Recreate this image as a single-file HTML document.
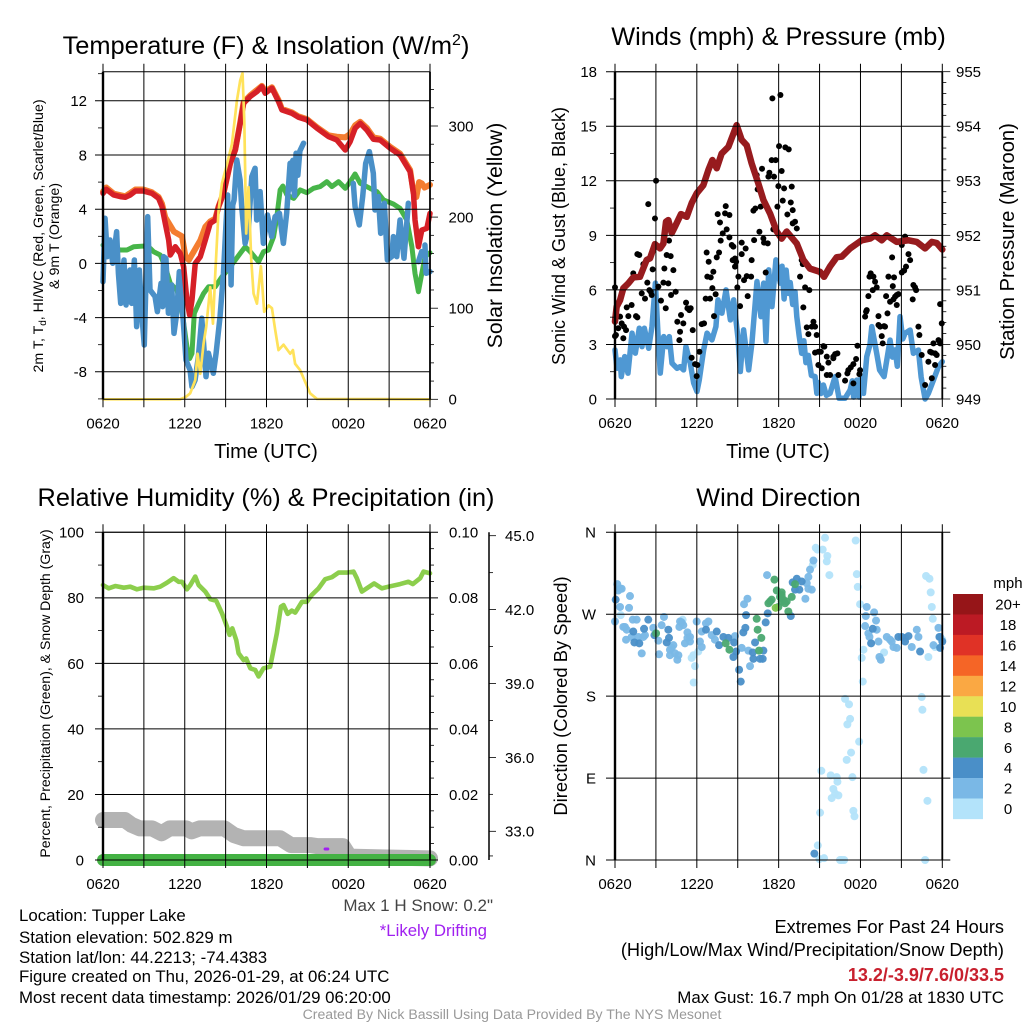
<!DOCTYPE html>
<html lang="en">
<head>
<meta charset="utf-8">
<title>Tupper Lake Meteogram</title>
<style>
html,body{margin:0;padding:0;background:#fff;}
svg{display:block;font-family:"Liberation Sans",sans-serif;}
text{fill:#000;}
</style>
</head>
<body>
<svg id="chart" xmlns="http://www.w3.org/2000/svg" width="1024" height="1024" viewBox="0 0 1024 1024">
  <rect width="1024" height="1024" fill="#fff"/>
  <g id="panel-a"></g>
  <g id="panel-b"></g>
  <g id="panel-c"></g>
  <g id="panel-d"></g>
  <g id="legend"></g>

  <text x="266" y="54" font-size="25.4" text-anchor="middle">Temperature (F) &amp; Insolation (W/m<tspan dy="-9" font-size="16">2</tspan><tspan dy="9">)</tspan></text>
  <text x="778.5" y="45" font-size="25.3" text-anchor="middle">Winds (mph) &amp; Pressure (mb)</text>
  <text x="266" y="506" font-size="25.3" text-anchor="middle">Relative Humidity (%) &amp; Precipitation (in)</text>
  <text x="778.5" y="506" font-size="25.3" text-anchor="middle">Wind Direction</text>

  <text x="266" y="458" font-size="20" text-anchor="middle">Time (UTC)</text>
  <text x="778" y="458" font-size="20" text-anchor="middle">Time (UTC)</text>

  <text transform="translate(43,236) rotate(-90)" font-size="14.2" text-anchor="middle">2m T, T<tspan dy="3" font-size="10">d</tspan><tspan dy="-3">, HI/WC (Red, Green, Scarlet/Blue)</tspan></text>
  <text transform="translate(59,236) rotate(-90)" font-size="14.2" text-anchor="middle">&amp; 9m T (Orange)</text>
  <text transform="translate(502,235.5) rotate(-90)" font-size="21.1" text-anchor="middle">Solar Insolation (Yellow)</text>
  <text transform="translate(565,236) rotate(-90)" font-size="18" text-anchor="middle">Sonic Wind &amp; Gust (Blue, Black)</text>
  <text transform="translate(1014,241.5) rotate(-90)" font-size="20.2" text-anchor="middle">Station Pressure (Maroon)</text>
  <text transform="translate(50,693.5) rotate(-90)" font-size="14.1" text-anchor="middle">Percent, Precipitation (Green), &amp; Snow Depth (Gray)</text>
  <text transform="translate(567,696) rotate(-90)" font-size="18.4" text-anchor="middle">Direction (Colored By Speed)</text>

  <text x="493" y="911" font-size="17" text-anchor="end" style="fill:#444">Max 1 H Snow: 0.2"</text>
  <text x="487" y="936" font-size="16.8" text-anchor="end" style="fill:#a020f0">*Likely Drifting</text>

  <text x="19" y="921" font-size="16.85">Location: Tupper Lake</text>
  <text x="19" y="943" font-size="16.85">Station elevation: 502.829 m</text>
  <text x="19" y="963" font-size="16.85">Station lat/lon: 44.2213; -74.4383</text>
  <text x="19" y="982" font-size="16.85">Figure created on Thu, 2026-01-29, at 06:24 UTC</text>
  <text x="19" y="1003" font-size="16.85">Most recent data timestamp: 2026/01/29 06:20:00</text>

  <text x="1004" y="933" font-size="18.2" text-anchor="end">Extremes For Past 24 Hours</text>
  <text x="1004" y="956" font-size="18.2" text-anchor="end">(High/Low/Max Wind/Precipitation/Snow Depth)</text>
  <text x="1004" y="981" font-size="18" font-weight="bold" text-anchor="end" style="fill:#c8202e">13.2/-3.9/7.6/0/33.5</text>
  <text x="1004" y="1003" font-size="16.9" text-anchor="end">Max Gust: 16.7 mph On 01/28 at 1830 UTC</text>
  <text x="512" y="1019" font-size="14.1" text-anchor="middle" style="fill:#999">Created By Nick Bassill Using Data Provided By The NYS Mesonet</text>
</svg>

<script>
/* ---------- shared time axis ---------- */
const timeTicks = [0,3,6,9,12,15,18,21,24];
const timeLabels = ['0620','','1220','','1820','','0020','','0620'];

/* ---------- temperature panel data ---------- */
const tempTicks = [12,8,4,0,-4,-8];
const tempMinorTicks = [14,10,6,2,-2,-6,-10];
const solarTicks = [0,100,200,300];
const solarMinorTicks = [20,40,60,80,120,140,160,180,220,240,260,280,320,340];

const redHours = [0,.24,.78,1.27,1.64,2,2.37,2.98,3.59,4.08,4.33,4.57,4.82,4.94,5.31,5.67,5.92,6.16,6.36,6.53,6.77,7.14,7.51,7.87,8.24,8.48,8.85,9.34,9.71,10.07,10.32,10.81,11.3,11.66,11.91,12.4,12.88,13.13,13.86,14.35,14.96,15.7,16.55,17.16,17.78,18.14,18.51,18.88,19.36,19.85,20.34,21.08,21.8,22.54,22.79,22.9,23.15,23.4,23.77,24];
const redValues = [5.17,5.47,5.05,4.93,4.88,5.05,5.34,5.34,5.17,4.8,4.19,2.96,1.72,.62,1.23,.74,-.25,-2.71,-3.82,-2.71,0,.49,1.72,2.96,3.2,4.19,5.17,7.39,8.37,10.34,11.82,12.32,12.68,13.05,12.56,12.93,11.95,11.33,11.08,10.79,10.59,9.98,9.36,9.11,8.37,8.99,9.98,10.34,9.85,9.16,9.11,8.5,8,6.77,5.17,3.2,1.23,2.46,2.59,3.69];

const orangeHours = [0,.24,.78,1.64,2.37,2.98,3.59,4.08,4.33,4.57,5.2,5.8,6.05,6.3,6.85,7.14,7.51,7.87,8.24,8.48,8.85,9.34,9.71,10.07,10.32,10.81,11.3,11.66,11.91,12.4,12.88,13.13,13.86,14.35,14.96,15.7,16.55,17.16,17.78,18.14,18.51,18.88,19.36,19.85,20.34,21.08,21.8,22.54,22.79,23,23.2,23.4,23.6,24];
const orangeValues = [5.3,5.6,5.15,4.95,5.45,5.45,5.25,4.9,4.4,3.4,2.35,2,.5,.25,1.2,1.7,2.7,3.1,3.3,4.2,5.2,7.4,8.4,10.4,11.9,12.4,12.8,13.1,12.7,13,12.05,11.4,11.15,10.85,10.65,10.05,9.45,9.35,9.3,9.55,10.2,10.45,10,9.3,9.2,8.6,8.1,6.9,5.2,4.9,6,5.9,5.6,5.8];

const greenHours = [0,.54,1.27,1.76,2.25,2.98,3.47,3.72,4.2,4.57,4.94,5.43,5.79,6.16,6.36,6.53,6.7,7.02,7.38,7.75,8.24,8.73,9.34,9.71,10.07,10.44,10.81,11.42,11.78,12.15,12.52,12.76,13,13.2,13.5,14,14.47,14.96,15.45,15.94,16.43,16.8,17.29,17.78,18.14,18.5,18.88,19.6,20.1,20.59,21.32,21.8,22.3,22.67,22.9,23.15,23.4,23.64,24];
const greenValues = [1.35,1.23,.99,.99,1.23,1.28,1.11,.86,.62,-.25,-1.48,-1.97,-3.45,-6.16,-7.02,-6.65,-3.69,-2.96,-2.22,-1.72,-1.72,-.99,-.25,.25,.74,1.23,.86,.12,.86,.99,1.97,3.45,5.42,5.71,5.05,4.8,5.42,5.22,5.54,5.67,6.03,5.67,6.03,5.54,6.03,6.6,5.91,5.54,5.3,4.68,4.38,4.06,3.2,1.23,-.74,-2.09,-.74,.49,.79];

const blueHours = [0,.15,.32,.51,.71,1,1.13,1.3,1.54,1.69,1.98,2.1,2.3,2.47,2.67,2.84,3.03,3.28,3.45,3.82,3.99,4.26,4.38,4.45,4.62,4.8,5.04,5.21,5.41,5.6,5.85,6.09,6.39,6.53,6.76,7,7.25,7.56,7.74,8.1,8.3,8.59,8.84,9.03,9.15,9.22,9.3,9.4,9.52,9.62,9.82,10.06,10.18,10.43,10.67,10.92,11.16,11.28,11.53,11.77,12.07,12.38,12.63,12.95,13.1,13.24,13.48,13.73,13.85,13.93,14.05,14.17,14.3,14.45,14.72,15,18.37,18.5,18.81,19.06,19.28,19.55,19.84,19.96,20.21,20.38,20.65,20.87,21.19,21.31,21.56,21.8,22.09,22.41,22.6,23.15,23.39,23.5,23.63,23.71,24];
const blueValues = [-1.35,3.33,.5,1.73,.01,2.34,-.73,-2.95,.25,-3.07,-.49,-2.95,.25,-4.67,-.49,-3.68,-6.02,3.45,-1.96,-2.45,-3.56,-1.47,-3.19,.5,.37,-3.68,-1.59,-5.16,-3.68,-.61,-3.68,-7.13,-7.86,-9.11,-8.6,-6.88,-4.05,-8.36,-6.63,-8.11,-6.63,-3.93,-.73,2.96,5.05,-.5,4.2,-1.59,4.3,4.68,7.63,6.16,4.19,1.48,2.47,6.4,7.02,3.2,5.3,1.48,3.57,1.98,3.45,3.7,2.5,1.48,3.7,7.39,5.5,7.6,5,8.13,6.5,8.3,8.87,null,5.91,4.19,2.84,4.93,7.39,8.25,6.65,3.94,4.93,2.22,4.44,.25,.5,1.98,.5,3.2,.38,4.44,null,.13,.87,null,1.36,-.73,-.61];

const solarHours = [0,5.67,6.04,6.4,6.77,6.94,7.14,7.38,7.58,7.87,8.07,8.24,8.48,8.73,9.1,9.46,9.83,10.07,10.24,10.37,10.51,10.68,10.88,11.05,11.3,11.59,11.83,12.15,12.4,12.64,12.88,13.25,13.74,13.94,14.1,14.47,14.84,15.2,15.7,24];
const solarValues = [0,0,2.2,6.6,21,50,28,61,80,123,83,138,207,237,258,280,328,350,358,306,182,233,153,116,105,146,96,103,100,76,54,60,50,54,39,32,19,6.6,.4,0];

/* ---------- wind panel data ---------- */
const windTicks = [18,15,12,9,6,3,0];
const windMinorTicks = [16.5,13.5,10.5,7.5,4.5,1.5];
const pressureTicks = [949,950,951,952,953,954,955];
const pressureMinorTicks = [949.2,949.4,949.6,949.8,950.2,950.4,950.6,950.8,951.2,951.4,951.6,951.8,952.2,952.4,952.6,952.8,953.2,953.4,953.6,953.8,954.2,954.4,954.6,954.8];

const pressureHours = [0,.12,.37,.61,.98,1.34,1.83,2.32,2.57,2.93,3.3,3.55,3.74,3.91,4.16,4.4,4.84,5.26,5.62,5.99,6.48,6.85,7.14,7.46,7.82,8.31,8.92,9.29,9.66,10.02,10.51,10.88,11.37,11.86,12.22,12.59,13.33,13.81,14.3,15.04,15.33,15.77,16.26,16.63,17.24,18.09,18.7,19.07,19.56,19.93,20.66,21.52,22.13,22.74,23.23,23.59,24];
const pressureValues = [950.42,950.69,950.81,951.03,951.12,951.23,951.24,951.55,951.58,951.84,951.76,951.85,952.25,952.28,952.04,952.16,952.39,952.34,952.59,952.77,952.92,953.2,953.38,953.23,953.5,953.62,954.02,953.75,953.65,953.32,952.95,952.65,952.4,952.07,951.94,952.07,951.85,951.55,951.39,951.33,951.24,951.43,951.6,951.61,951.76,951.91,951.94,952,951.91,952,951.88,951.91,951.88,951.76,951.88,951.86,951.74];

const sustainedHours = [0,.15,.39,.46,.71,.95,1.25,1.49,1.78,1.98,2.15,2.47,2.71,2.96,3.15,3.32,3.57,3.81,3.98,4.18,4.55,4.79,5.03,5.2,5.52,5.77,6.01,6.18,6.5,6.75,7.11,7.4,7.55,7.84,8.14,8.46,8.7,9.02,9.19,9.43,9.8,10.04,10.41,10.7,10.9,11.07,11.27,11.51,11.8,12.12,12.25,12.4,12.55,12.71,12.85,13.03,13.2,13.33,13.5,13.69,13.85,14,14.18,14.4,14.67,14.8,14.91,15.1,15.28,15.5,15.77,16.14,16.43,16.87,17.24,17.4,17.5,17.73,17.9,18.05,18.22,18.46,18.7,18.83,19.19,19.4,19.73,20.17,20.35,20.54,20.7,20.9,21.1,21.27,21.64,21.88,22.25,22.45,22.74,22.98,23.35,23.72,24];
const sustainedValues = [2.7,1.69,2.15,1.23,2.33,1.42,3.62,2.52,3.89,2.88,3.89,2.79,3.98,6.37,3.62,1.42,3.43,2.88,3.43,1.97,1.69,1.78,1.6,2.88,1.97,.87,.41,1.05,2.7,3.62,3.25,3.98,5.45,4.72,6,4.35,5.45,3.34,1.51,3.8,1.6,3.07,6.46,4.53,6.37,3.16,7.1,5.08,7.65,6.37,7.3,5.5,7.09,5.81,6.4,5.2,5.9,4.53,3.5,2.51,3.2,2,2.4,1.3,1.23,.31,.9,.3,.77,.2,.31,1.23,.04,.04,.49,1,.1,1.04,.1,1.2,.31,2.33,3,3.98,2.51,1.6,1.23,3.24,2.3,2.7,1.8,4.53,3.3,3.61,3.79,2.51,2.69,1.2,0,.31,1.04,1.78,2.05];

const gustHours = [0,0,.07,.24,.37,.49,.61,.66,.81,.86,.98,1.22,1.54,1.64,1.64,1.78,1.34,1.96,2.08,2.2,2.32,2.37,2.52,2.62,2.69,2.76,2.44,2.93,3.01,3.18,3.37,3.55,3.62,3.72,3.79,3.91,3.96,4.08,4.11,4.28,4.45,4.57,4.72,4.77,4.84,5.01,5.21,5.31,5.45,5.55,5.7,5.62,5.87,5.99,6.04,6.19,6.36,6.53,6.65,6.72,6.87,6.77,7.02,6.97,7.14,7.38,7.26,7.21,7.46,7.63,7.53,7.7,7.9,8.12,8.07,8.39,8.19,7.75,8.39,8.56,8.68,8.63,8.8,8.88,8.8,8.97,9.05,9.17,9.29,9.29,9.58,9.46,9.73,9.66,10.02,9.98,10.2,10.15,10.29,10.46,10.39,10.59,10.68,10.78,10.88,10.93,11.2,11.05,11.32,11.49,11.78,11.25,11.66,11.98,12.03,12.22,11.91,12.3,12.4,11.61,12.49,12.74,12.96,12.89,12.64,13.03,13.2,13.03,13.33,13.52,13.69,13.77,13.57,13.94,14.25,13.81,14.06,14.18,14.43,14.55,14.67,14.79,14.67,14.91,15.28,15.35,15.09,14.91,15.16,15.53,15.65,15.53,16.01,16.14,16.31,15.77,16.01,16.38,16.87,17.04,17.11,17.29,17.48,17.68,17.78,17.92,17.97,17.48,18.34,18.46,18.41,18.58,18.66,18.75,18.95,19.07,18.9,19.19,19.32,19.44,19.73,19.56,19.8,19.32,19.98,19.63,20.05,20.46,20.37,19.88,20.17,20.54,20.66,20.78,20.42,20.66,20.32,21.03,21.2,21.34,21.52,21.64,21.27,21.03,21.88,22.08,22,21.83,22.25,22.32,22.49,22.98,23.35,23.47,23.23,23.11,23.72,23.84,23.84,23.96,23.47,23.23,22.74,23.59,11.54,12.13];
const gustValues = [6.14,3.46,3.52,3.89,4.53,4.16,3.34,3.98,3.79,5.04,4.56,5.17,4.56,4.49,7.97,7.92,6.91,5.81,7.42,5.52,7.64,6.4,5.99,5.9,5.72,7.13,10.72,9.93,12,6.18,5.41,6.4,7.18,4.99,7.92,6.36,8.71,7.86,5.72,7.09,5.9,4.25,3.24,3.7,4.62,4.16,5.3,4.99,4.89,4.99,3.79,2.27,1.92,1.26,1.87,2.6,4.12,4.16,5.52,8.06,7.55,6.73,6.69,5.52,6.1,5.76,4.56,7,7.79,8.06,10.17,9.71,9.11,10.61,10.21,10.12,9.33,8.71,8.89,8.47,8.38,7.64,7.73,7.55,7.28,6.14,6.73,5.11,8.6,7.97,8.28,6.54,5.66,6.76,7.64,6.73,8.74,10.36,10.48,11.53,12.32,9.2,10.58,12.66,8.83,8.6,8.56,6.96,12.44,13.14,13.14,12.23,12.23,11.71,13.91,12.54,10.58,10.91,11.58,9.33,13.84,13.73,11.68,10.81,10.15,10.39,9.75,9.66,9.38,8.19,7.64,7.42,6.73,6.14,5.99,5.04,3.94,3.57,3.98,4.25,3.98,3.52,2.55,2.6,2.91,2.88,2.6,1.87,1.69,1.32,2,2.33,2.33,2.47,2.51,1.32,2.24,1.32,1.01,1.41,1.59,1.74,1.92,2.2,2.93,1.37,1.59,.86,4.53,4.89,4.8,5.66,6.73,6.91,6.73,6.45,5.99,6.14,4.07,3.98,4.01,3.46,3.98,4.56,4.71,3.06,6.73,6.69,6.21,5.66,5.35,5.63,5.72,5.77,5.48,5.17,7.79,6.96,7.06,7.28,7.97,7.64,8.93,8.47,6.27,5.99,6.14,5.48,3.98,3.52,2.42,2.05,3.06,2.51,2.55,2.6,3.24,3.06,5.22,4.16,1.87,1.14,.77,2.42,16.53,16.72];

/* ---------- humidity panel data ---------- */
const percentTicks = [100,80,60,40,20,0];
const percentMinorTicks = [90,70,50,30,10];
const precipTicks = [0,.02,.04,.06,.08,.1];
const precipTickLabels = ['0.00','0.02','0.04','0.06','0.08','0.10'];
const precipMinorTicks = [.005,.01,.015,.025,.03,.035,.045,.05,.055,.065,.07,.075,.085,.09,.095];
const snowTicks = [33,36,39,42,45];
const snowTickLabels = ['33.0','36.0','39.0','42.0','45.0'];
const snowMinorTicks = [32,34.5,37.5,40.5,43.5];

const humidityHours = [0,.42,.9,1.52,2,2.49,2.98,3.72,4.2,4.69,5.18,5.55,5.79,6.16,6.41,6.77,7.02,7.51,7.87,8.31,8.73,9.1,9.29,9.49,9.78,9.95,10.32,10.51,10.81,11.17,11.42,11.78,12.27,12.47,12.76,13.06,13.25,13.55,13.86,14.11,14.6,14.96,15.33,15.82,16.31,16.8,17.29,17.9,18.39,18.63,19,19.36,19.9,20.46,20.95,21.8,22.42,22.74,23.28,23.52,24];
const humidityValues = [83.9,82.9,83.6,83.1,83.4,82.6,83.1,82.9,83.4,84.6,86,84.9,84.9,82.6,83.9,86.5,83.9,81.9,79.6,79.1,75.3,71.2,68.7,70.7,67.1,63.1,61,61.5,58.5,58,56,58.5,59,63.1,69.2,77.3,77.8,75.1,76.1,75.5,78.8,78.8,80.9,82.9,85.7,86.3,87.7,87.7,88,86,81.9,82.9,84.4,82.9,83.4,84.2,84.9,84.2,86,88,87.5];

const snowHours = [0,1.6,2.1,2.7,3.6,4.3,4.9,6.1,6.5,7.1,8.9,9.6,10.3,13,13.8,15.2,15.7,17.6,18.1,24];
const snowValues = [33.46,33.46,33.26,33.12,33.12,32.92,33.12,33.12,33,33.12,33.12,32.85,32.72,32.72,32.44,32.44,32.4,32.4,31.97,31.9];
const precipHours = [0,24];
const precipValues = [0,0];
const driftHours = [16.3,16.5];
const driftSnow = [32.28,32.28];

/* ---------- direction panel data ---------- */
const directionTicks = [360,270,180,90,0];
const directionLabels = ['N','W','S','E','N'];

const dirCalmHours = [.42,4.96,5.75,5.62,6.11,5.87,5.77,15.4,14.72,15.23,14.84,15.57,15.53,15.72,17.65,17.73,17.8,17.97,14.5,18.22,18.09,18.17,19.73,16.87,17.16,17.24,17.04,17.9,17.31,16.99,15.13,15.82,16.26,16.31,16.01,16.14,16.38,15.89,15.04,17.48,17.56,17.41,14.87,14.99,15.33,16.5,16.8,16.63,22.81,23.06,23.15,23.23,23.3,22.49,22.54,22.62,22.91,22.74,23.47,22.98,24];
const dirCalmDegrees = [269,264,225,222,229,213,195,354,343,341,341,334,328,313,351,314,300,281,324,231,222,196,228,177,171,155,149,130,118,110,98,93,91,86,78,73,71,68,52,54,48,91,16,1,2,0,0,0,312,309,294,278,265,179,165,99,65,0,234,223,242];
const dirLightHours = [.17,.37,.24,.49,1.1,.37,1.03,0,.73,.61,.86,.81,1.3,1.59,1.22,1.71,2.08,1.96,2.2,3.59,3.42,2.81,3.18,3.23,4.03,4.16,4.28,4.03,4.4,4.57,4.65,4.72,4.89,5.01,5.31,5.13,5.31,5.5,5.99,6.36,6.23,6.36,6.67,6.85,7.09,7.33,8.8,9.29,9.78,9.9,9.46,9.71,11.15,14.55,14.3,14.18,14.06,14.18,14.43,13.96,18.34,18.66,18.58,19.32,19.93,20.17,20.42,20.29,20.66,21.76,22.25,22.13,21.27,23.35,23.72,23.84,19.49,19.39,18.46,19,18.39,19.14,19.19,5.5,4.77];
const dirLightDegrees = [303,298,296,298,290,278,277,262,256,256,253,242,264,264,245,245,245,227,247,267,258,255,241,226,231,233,236,225,227,220,225,256,261,258,250,238,244,240,262,251,240,234,260,262,247,242,246,233,230,213,281,287,313,329,319,311,304,298,297,287,257,245,249,240,245,242,234,240,233,234,245,253,244,236,255,245,220,223,278,272,268,263,253,245,262];
const dirMidHours = [.05,1.34,1.42,1.78,2.13,2.44,2.89,3.91,3.96,3.79,6.67,7.46,7.63,7.95,8.31,8.73,8.68,8.88,9.1,9.22,9.41,9.56,9.61,10.27,10.1,10.88,10.15,10.64,10.83,11.05,11.2,12.89,13.03,13.33,13.69,13.2,13.52,14.62,18.9,18.78,20.78,21.03,21.27,21.52,23.84,22.37,23.79,24];
const dirMidDegrees = [286,251,239,238,254,264,247,253,244,239,253,251,236,245,244,239,223,229,209,196,250,255,269,239,228,230,221,221,221,261,271,268,305,309,306,297,297,7,254,238,245,245,240,246,233,229,245,240];
const dirStrongHours = [3.01,8.12,8.39,10.56,10.73,10.46,10.39,11.69,11.86,12.22,12.35,12.1,12.22,12.59,12.96,11.49,11.25,11.98,12.71,13.2,12.47,12.22,11.37];
const dirStrongDegrees = [249,238,231,230,244,253,265,308,296,294,286,289,284,284,289,286,282,278,273,303,282,291,284];
const dirPeakHours = [11.78];
const dirPeakDegrees = [277];

/* ---------- legend data ---------- */
const legendLabels = ['20+','18','16','14','12','10','8','6','4','2','0'];
const legendColors = ['#961518','#bc1a24','#e03226','#f56526','#faa843','#e8e055','#7cc44e','#4aa870','#4a8fc8','#7ab8e6','#b3e3fa'];

/* ---------- helpers ---------- */
const NS = 'http://www.w3.org/2000/svg';
function make(tag, attrs) {
  const el = document.createElementNS(NS, tag);
  for (const k in attrs) el.setAttribute(k, attrs[k]);
  return el;
}
function linear(d0, d1, r0, r1) {
  return v => r0 + (v - d0) * (r1 - r0) / (d1 - d0);
}
function pathData(xs, ys, fx, fy) {
  let d = '', pen = false;
  for (let i = 0; i < xs.length; i++) {
    if (ys[i] === null) { pen = false; continue; }
    d += (pen ? 'L' : 'M') + fx(xs[i]).toFixed(2) + ' ' + fy(ys[i]).toFixed(2);
    pen = true;
  }
  return d;
}
function seriesPath(xs, ys, fx, fy, color, width) {
  return make('path', {d: pathData(xs, ys, fx, fy), fill: 'none', stroke: color, 'stroke-width': width, 'stroke-linejoin': 'round', 'stroke-linecap': 'round'});
}
function addGrid(parent, P, fy, ticks, leftExt, rightExt) {
  timeTicks.forEach(t => {
    const x = P.x(t);
    const ln = make('line', {x1: x, x2: x, y1: P.top - 8, y2: P.bottom + 8, stroke: '#000', 'stroke-width': 1});
    
    
    parent.appendChild(ln);
  });
  ticks.forEach(v => {
    const y = fy(v);
    const ln = make('line', {x1: P.left - leftExt, x2: P.right + rightExt, y1: y, y2: y, stroke: '#000', 'stroke-width': 1});
    
    
    parent.appendChild(ln);
  });
  const frame = make('path', {d: `M${P.left} ${P.top}H${P.right}M${P.left} ${P.bottom}H${P.right}`, fill: 'none', stroke: '#000', 'stroke-width': 1});
  
  
  parent.appendChild(frame);
  const spine = make('line', {x1: P.left, x2: P.left, y1: P.top, y2: P.bottom, stroke: '#000', 'stroke-width': 2.4});
  
  
  parent.appendChild(spine);
  const rspine = make('line', {x1: P.right, x2: P.right, y1: P.top, y2: P.bottom, stroke: '#000', 'stroke-width': 1.8});
  
  
  parent.appendChild(rspine);
  timeTicks.forEach((t, i) => {
    if (!timeLabels[i]) return;
    const tx = make('text', {x: P.x(t), y: P.bottom + 29, 'font-size': 15, 'text-anchor': 'middle'});
    tx.textContent = timeLabels[i];
    
    
    parent.appendChild(tx);
  });
}
function addMinorTicks(parent, values, fy, x0, len) {
  values.forEach(v => {
    const y = fy(v);
    const ln = make('line', {x1: x0, x2: x0 + len, y1: y, y2: y, stroke: '#000', 'stroke-width': .8});
    
    
    parent.appendChild(ln);
  });
}
function addLabels(parent, values, labels, fy, x, anchor) {
  values.forEach((v, i) => {
    const tx = make('text', {x: x, y: fy(v) + 5.4, 'font-size': 15, 'text-anchor': anchor});
    tx.textContent = labels[i];
    
    
    parent.appendChild(tx);
  });
}

/* ---------- panel A: temperature ---------- */
(function () {
  const g = document.getElementById('panel-a');
  const P = {left: 103, right: 430, top: 71.7, bottom: 399.3};
  P.x = linear(0, 24, P.left, P.right);
  const fy = linear(0, 12, 263.4, 100.8);
  const fs = linear(0, 300, 399.3, 126);

  const orange = seriesPath(orangeHours, orangeValues, P.x, fy, '#f47d30', 6);
  
  
  g.appendChild(orange);

  const green = seriesPath(greenHours, greenValues, P.x, fy, '#47b549', 5);
  
  
  g.appendChild(green);

  const blue = seriesPath(blueHours, blueValues, P.x, fy, '#4a90c8', 5.5);
  
  
  g.appendChild(blue);

  const red = seriesPath(redHours, redValues, P.x, fy, '#d62027', 5.5);
  
  
  g.appendChild(red);

  const solar = seriesPath(solarHours, solarValues, P.x, fs, '#ffe25a', 2.7);
  
  
  g.appendChild(solar);

  addGrid(g, P, fy, tempTicks, 8, 0);
  addMinorTicks(g, tempMinorTicks, fy, P.left - 5, 5);
  addMinorTicks(g, solarMinorTicks, fs, P.right, 4);
  addMinorTicks(g, solarTicks, fs, P.right, 8);
  addLabels(g, tempTicks, tempTicks.map(String), fy, 87, 'end');
  addLabels(g, solarTicks, solarTicks.map(String), fs, 448.5, 'start');
})();

/* ---------- panel B: wind and pressure ---------- */
(function () {
  const g = document.getElementById('panel-b');
  const P = {left: 615, right: 942.3, top: 71.7, bottom: 399};
  P.x = linear(0, 24, P.left, P.right);
  const fy = linear(0, 18, P.bottom, P.top);
  const fp = linear(949, 955, P.bottom, P.top);

  const sustained = seriesPath(sustainedHours, sustainedValues, P.x, fy, '#4f98d3', 5.5);
  
  
  g.appendChild(sustained);

  gustHours.forEach((h, i) => {
    const c = make('circle', {cx: P.x(h), cy: fy(gustValues[i]), r: 3, fill: '#000'});
    
    
    g.appendChild(c);
  });

  const pressure = seriesPath(pressureHours, pressureValues, P.x, fp, '#971b1e', 6.5);
  
  
  g.appendChild(pressure);

  addGrid(g, P, fy, windTicks, 9, 0);
  addMinorTicks(g, windMinorTicks, fy, P.left - 5, 5);
  addMinorTicks(g, pressureMinorTicks, fp, P.right, 4);
  addMinorTicks(g, pressureTicks, fp, P.right, 8);
  addLabels(g, windTicks, windTicks.map(String), fy, 597, 'end');
  addLabels(g, pressureTicks, pressureTicks.map(String), fp, 956, 'start');
})();

/* ---------- panel C: humidity, precipitation, snow ---------- */
(function () {
  const g = document.getElementById('panel-c');
  const P = {left: 103, right: 430, top: 532.3, bottom: 860};
  P.x = linear(0, 24, P.left, P.right);
  const fy = linear(0, 100, P.bottom, P.top);
  const fr = linear(0, .1, P.bottom, P.top);
  const fn = linear(33, 45, 831.3, 535.7);

  const snow = seriesPath(snowHours, snowValues, P.x, fn, '#b3b3b3', 16);
  
  
  g.appendChild(snow);

  const drift = seriesPath(driftHours, driftSnow, P.x, fn, '#a020f0', 3);
  
  
  g.appendChild(drift);

  const precip = seriesPath(precipHours, precipValues, P.x, fr, '#44b244', 12);
  
  
  g.appendChild(precip);

  const humidity = seriesPath(humidityHours, humidityValues, P.x, fy, '#8cce4c', 4.6);
  
  
  g.appendChild(humidity);

  addGrid(g, P, fy, percentTicks, 8, 8);
  addMinorTicks(g, percentMinorTicks, fy, P.left - 5, 5);
  addMinorTicks(g, precipMinorTicks, fr, P.right, 4);
  addLabels(g, percentTicks, percentTicks.map(String), fy, 84, 'end');
  addLabels(g, precipTicks, precipTickLabels, fr, 449, 'start');

  const snowAxis = make('line', {x1: 489, x2: 489, y1: 532.3, y2: 860, stroke: '#000', 'stroke-width': 1.5});
  
  
  g.appendChild(snowAxis);
  addMinorTicks(g, snowMinorTicks, fn, 489, 4);
  addMinorTicks(g, snowTicks, fn, 489, 7);
  addLabels(g, snowTicks, snowTickLabels, fn, 505, 'start');
})();

/* ---------- panel D: wind direction ---------- */
(function () {
  const g = document.getElementById('panel-d');
  const P = {left: 615, right: 942.3, top: 532.3, bottom: 860};
  P.x = linear(0, 24, P.left, P.right);
  const fy = linear(0, 360, P.bottom, P.top);

  dirCalmHours.forEach((h, i) => {
    const c = make('circle', {cx: P.x(h), cy: fy(dirCalmDegrees[i]), r: 4, fill: '#b3e3fa', 'fill-opacity': .95});
    
    
    g.appendChild(c);
  });
  dirLightHours.forEach((h, i) => {
    const c = make('circle', {cx: P.x(h), cy: fy(dirLightDegrees[i]), r: 4, fill: '#7ab8e6', 'fill-opacity': .95});
    
    
    g.appendChild(c);
  });
  dirMidHours.forEach((h, i) => {
    const c = make('circle', {cx: P.x(h), cy: fy(dirMidDegrees[i]), r: 4, fill: '#4a8fc8', 'fill-opacity': .95});
    
    
    g.appendChild(c);
  });
  dirStrongHours.forEach((h, i) => {
    const c = make('circle', {cx: P.x(h), cy: fy(dirStrongDegrees[i]), r: 4, fill: '#4aa870', 'fill-opacity': .95});
    
    
    g.appendChild(c);
  });
  dirPeakHours.forEach((h, i) => {
    const c = make('circle', {cx: P.x(h), cy: fy(dirPeakDegrees[i]), r: 4, fill: '#7cc44e', 'fill-opacity': .95});
    
    
    g.appendChild(c);
  });

  addGrid(g, P, fy, directionTicks, 9, 8);
  addLabels(g, directionTicks, directionLabels, fy, 596, 'end');
})();

/* ---------- colour legend ---------- */
(function () {
  const g = document.getElementById('legend');
  const unit = make('text', {x: 1008, y: 588, 'font-size': 15, 'text-anchor': 'middle'});
  unit.textContent = 'mph';
  
  
  g.appendChild(unit);
  const rowH = 20.45;
  legendLabels.forEach((label, i) => {
    const r = make('rect', {x: 953, y: 594 + i * rowH, width: 30, height: rowH + .2, fill: legendColors[i]});
    
    
    g.appendChild(r);
    const t = make('text', {x: 1008, y: 594 + i * rowH + rowH / 2 + 5.4, 'font-size': 15, 'text-anchor': 'middle'});
    t.textContent = label;
    
    
    g.appendChild(t);
  });
})();
</script>
</body>
</html>
